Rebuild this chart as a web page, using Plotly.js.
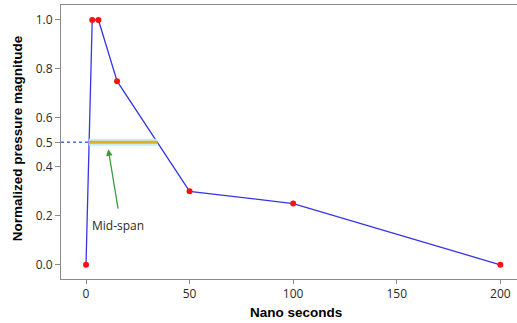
<!DOCTYPE html>
<html>
<head>
<meta charset="utf-8">
<script src="https://cdn.plot.ly/plotly-3.0.1.min.js"></script>
<style>html,body{margin:0;padding:0;background:#fff;}#chart{width:517px;height:323px;}</style>
</head>
<body>
<div id="chart"></div>
<script>
// Data
const timeNs = [0, 3, 6, 15, 50, 100, 200];
const pressure = [0, 1, 1, 0.75, 0.3, 0.25, 0];
const xTicks = [0, 50, 100, 150, 200];
const yTicks = [0, 0.2, 0.4, 0.5, 0.6, 0.8, 1.0];
const midLevel = 0.5;
const xTitle = "Nano seconds";
const yTitle = "Normalized pressure magnitude";
const midLabel = "Mid-span";

// crossings of the mid level, computed from the data
function crossings(xs, ys, level) {
  const out = [];
  for (let i = 0; i < xs.length - 1; i++) {
    const y0 = ys[i] - level, y1 = ys[i + 1] - level;
    if (y0 === 0) out.push(xs[i]);
    else if (y0 * y1 < 0) out.push(xs[i] + (xs[i + 1] - xs[i]) * (-y0) / (y1 - y0));
  }
  return out;
}
const cr = crossings(timeNs, pressure, midLevel);
const xStart = cr[0], xEnd = cr[cr.length - 1];
const xRange = [-12.07, 208.05];

const traces = [{
  x: timeNs, y: pressure, type: 'scatter', mode: 'lines+markers',
  line: {color: '#3535e8', width: 1.3},
  marker: {color: '#ff1010', size: 6},
  hoverinfo: 'skip', showlegend: false, cliponaxis: false
}];

const shapes = [
  {type: 'line', xref: 'x', yref: 'y', x0: xRange[0], x1: xStart, y0: midLevel, y1: midLevel,
   line: {color: '#4a6fd0', width: 1.5, dash: 'dot'}},
  {type: 'line', xref: 'x', yref: 'y', x0: xStart, x1: xEnd, y0: midLevel, y1: midLevel,
   line: {color: '#c2eef6', width: 7}},
  {type: 'line', xref: 'x', yref: 'y', x0: xStart, x1: xEnd, y0: midLevel, y1: midLevel,
   line: {color: '#e0b01a', width: 3}}
];

const fontTick = {family: '"Open Sans", "Liberation Sans", sans-serif', size: 12, color: '#2a2a2a'};
const fontTitle = {family: '"Liberation Sans", Arial, sans-serif', size: 13.5, color: '#000'};

const annotations = [
  {x: 10.76, y: 0.4716, xref: 'x', yref: 'y', ax: 15.6, ay: 0.2235, axref: 'x', ayref: 'y',
   text: '', showarrow: true, arrowhead: 2, arrowsize: 1, arrowwidth: 1.3, arrowcolor: '#3a9a3a', standoff: 0},
  {x: 2.0, y: 0.162, xref: 'x', yref: 'y', text: midLabel, showarrow: false,
   xanchor: 'left', yanchor: 'middle', font: fontTick},
  {x: 0.515, y: -0.124, xref: 'paper', yref: 'paper', text: '<b>' + xTitle + '</b>', showarrow: false,
   xanchor: 'center', yanchor: 'middle', font: fontTitle},
  {x: -0.0936, y: 0.515, xref: 'paper', yref: 'paper', text: '<b>' + yTitle + '</b>', showarrow: false,
   textangle: -90, xanchor: 'center', yanchor: 'middle', font: fontTitle}
];

const layout = {
  width: 517, height: 323,
  margin: {l: 61, r: 0, t: 5, b: 44},
  paper_bgcolor: '#fff', plot_bgcolor: '#fff',
  xaxis: {range: xRange, tickvals: xTicks, ticktext: xTicks.map(String),
    showgrid: false, zeroline: false, showline: true, mirror: true, linecolor: '#8a8a8a', linewidth: 1,
    ticks: 'outside', ticklen: 4, tickcolor: '#8a8a8a', tickfont: fontTick},
  yaxis: {range: [-0.058, 1.061], tickvals: yTicks, ticktext: yTicks.map(v => v.toFixed(1)),
    showgrid: false, zeroline: false, showline: true, linecolor: '#8a8a8a', linewidth: 1,
    ticks: 'outside', ticklen: 5, tickcolor: '#8a8a8a', tickfont: fontTick},
  shapes: shapes,
  annotations: annotations,
  showlegend: false
};

Plotly.newPlot('chart', traces, layout, {staticPlot: true, displayModeBar: false});
</script>
</body>
</html>
